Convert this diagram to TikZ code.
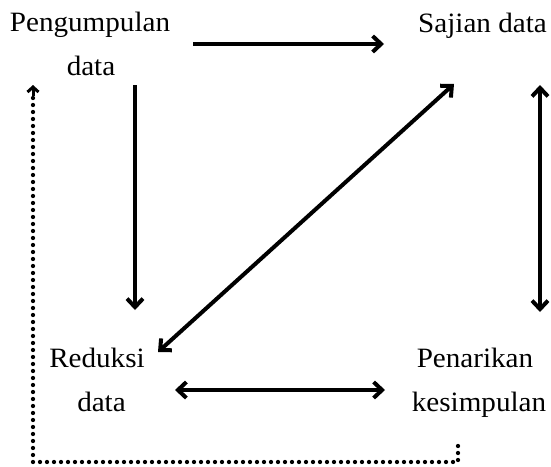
\documentclass[tikz,border=0pt]{standalone}
\usepackage{fontspec}
\setmainfont{Liberation Serif}[FakeStretch=1.04]
\usetikzlibrary{arrows.meta}
\tikzset{barbtip/.tip={Straight Barb[length=8.5pt,width=16pt,line width=4pt]}}
\begin{document}
\begin{tikzpicture}[x=1pt,y=-1pt,
  lbl/.style={inner sep=0pt, align=center, font=\fontsize{28}{44}\selectfont},
  conn/.style={line width=4pt, -{barbtip}},
  bconn/.style={line width=4pt, {barbtip}-{barbtip}},
  fb/.style={line width=4.3pt, line cap=round, dash pattern=on 0pt off 7pt}]
\useasboundingbox (0,0) rectangle (551,466);
\node[lbl] (pd) at (90,43.5) {Pengumpulan\\\hspace*{2pt}data};
\node[lbl, anchor=base] (sd) at (482.5,32) {Sajian data};
\node[lbl] (rd) at (97,379.5) {Reduksi\\\hspace*{9pt}data};
\node[lbl] (pk) at (479,382.5) {\hspace*{-8pt}Penarikan\\kesimpulan};
% connector ends
\coordinate (t1) at (193,44);
\coordinate (t2) at (384,44);
\coordinate (l1) at (135,85);
\coordinate (l2) at (135,310);
\coordinate (d1) at (158,352);
\coordinate (d2) at (454,84);
\coordinate (r1) at (540,85);
\coordinate (r2) at (540,312);
\coordinate (b1) at (175,390);
\coordinate (b2) at (385,390);
\coordinate (f1) at (458,446);
\coordinate (f2) at (458,462);
\coordinate (f3) at (33,462);
\coordinate (f4) at (33,85);
\coordinate (f5) at (33,96);
\draw[conn] (t1) -- (t2);
\draw[conn] (l1) -- (l2);
\draw[bconn] (d1) -- (d2);
\draw[bconn] (r1) -- (r2);
\draw[bconn] (b1) -- (b2);
\draw[fb] (f1) -- (f2) -- (f3) -- (f5);
\draw[line width=3pt, -{Straight Barb[length=5pt,width=11pt,line width=3pt]}] (f5) -- (f4);
\end{tikzpicture}
\end{document}
